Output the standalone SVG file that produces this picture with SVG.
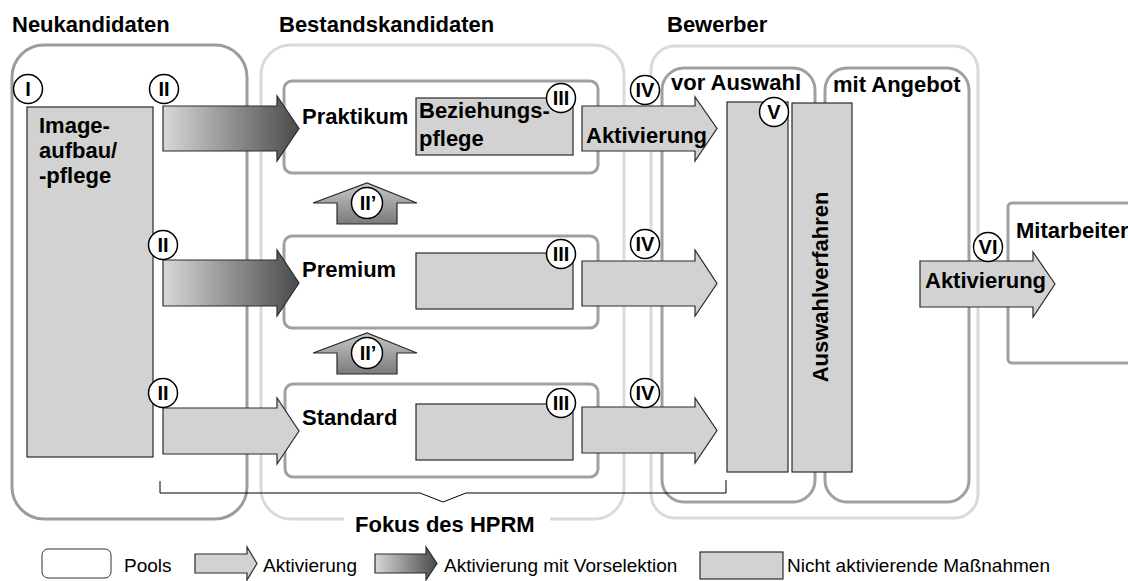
<svg xmlns="http://www.w3.org/2000/svg" width="1128" height="581" viewBox="0 0 1128 581">
  <style>
    text { font-family: "Liberation Sans", Arial, Helvetica, sans-serif; fill: #000; }
    .title { font-size: 22px; font-weight: bold; }
    .lbl { font-size: 22px; font-weight: bold; }
    .num { font-size: 20px; font-weight: bold; text-anchor: middle; }
    .leg { font-size: 19px; }
    .poolDark { fill: none; stroke: #9c9c9c; stroke-width: 3; }
    .poolLight { fill: none; stroke: #dadada; stroke-width: 3; }
    .seg { fill: #fff; stroke: #a0a0a0; stroke-width: 3; }
    .measure { fill: #d2d2d2; stroke: #2a2a2a; stroke-width: 1.2; }
    .act { fill: #d2d2d2; stroke: #2a2a2a; stroke-width: 1.2; }
    .actSel { fill: url(#gradH); stroke: #2a2a2a; stroke-width: 1.2; }
    .actUp { fill: url(#gradV); stroke: #2a2a2a; stroke-width: 1.2; }
    .badge { fill: #fff; stroke: #000; stroke-width: 1.5; }
  </style>
  <defs>
    <linearGradient id="gradH" x1="0" y1="0" x2="1" y2="0">
      <stop offset="0" stop-color="#d8d8d8"/>
      <stop offset="1" stop-color="#4a4a4a"/>
    </linearGradient>
    <linearGradient id="gradV" x1="0" y1="0" x2="0" y2="1">
      <stop offset="0" stop-color="#c8c8c8"/>
      <stop offset="1" stop-color="#7a7a7a"/>
    </linearGradient>
  </defs>

  <!-- column titles -->
  <text class="title" x="12" y="32">Neukandidaten</text>
  <text class="title" x="279" y="32">Bestandskandidaten</text>
  <text class="title" x="667" y="32">Bewerber</text>

  <!-- pools -->
  <g id="pool-neukandidaten">
    <rect class="poolDark" x="12" y="45" width="235" height="474" rx="32"/>
  </g>
  <g id="pool-bestandskandidaten">
    <rect class="poolLight" x="261" y="45" width="363" height="474" rx="30"/>
    <rect x="344" y="512" width="206" height="14" fill="#fff"/>
    <text class="lbl" x="355" y="532">Fokus des HPRM</text>
  </g>
  <g id="pool-bewerber">
    <rect class="poolLight" x="651" y="46" width="327" height="472" rx="24"/>
  </g>
  <g id="pool-vor-auswahl">
    <rect class="seg" x="662" y="68" width="153" height="434" rx="22"/>
    <text class="lbl" x="671" y="90">vor Auswahl</text>
  </g>
  <g id="pool-mit-angebot">
    <rect class="seg" x="825" y="68" width="144" height="434" rx="22"/>
    <text class="lbl" x="833" y="92">mit Angebot</text>
  </g>
  <g id="pool-mitarbeiter">
    <rect class="seg" x="1008" y="203" width="200" height="160" rx="4"/>
    <text class="lbl" x="1016" y="238">Mitarbeiter</text>
  </g>

  <!-- candidate segments -->
  <g id="seg-praktikum">
    <rect class="seg" x="284" y="81" width="314" height="92" rx="8"/>
    <text class="lbl" x="302" y="124">Praktikum</text>
  </g>
  <g id="seg-premium">
    <rect class="seg" x="284" y="236" width="314" height="92" rx="8"/>
    <text class="lbl" x="302" y="277">Premium</text>
  </g>
  <g id="seg-standard">
    <rect class="seg" x="285" y="384" width="313" height="93" rx="8"/>
    <text class="lbl" x="302" y="425">Standard</text>
  </g>

  <!-- non-activating measures -->
  <g id="measure-image">
    <rect class="measure" x="27" y="107" width="126" height="350"/>
    <text class="lbl" x="39" y="133">Image-</text>
    <text class="lbl" x="39" y="158">aufbau/</text>
    <text class="lbl" x="39" y="183">-pflege</text>
  </g>
  <g id="measure-beziehungspflege">
    <rect class="measure" x="416" y="98" width="157" height="57"/>
    <text class="lbl" x="419" y="118">Beziehungs-</text>
    <text class="lbl" x="419" y="146">pflege</text>
  </g>
  <g id="measure-premium">
    <rect class="measure" x="416" y="253" width="157" height="56"/>
  </g>
  <g id="measure-standard">
    <rect class="measure" x="416" y="404" width="157" height="56"/>
  </g>
  <g id="measure-vorauswahl">
    <rect class="measure" x="727" y="102" width="61" height="370"/>
  </g>
  <g id="measure-auswahlverfahren">
    <rect class="measure" x="792" y="103" width="60" height="369"/>
    <text class="lbl" text-anchor="middle" transform="translate(828 287) rotate(-90)">Auswahlverfahren</text>
  </g>

  <!-- activation arrows -->
  <g id="connectors">
    <path class="actSel" d="M163,106 H277 V96 L299,128.5 L277,161 V151 H163 Z"/>
    <path class="actSel" d="M163,260 H277 V250 L299,283 L277,316 V306 H163 Z"/>
    <path class="act" d="M163,408 H277 V398 L299,431 L277,464 V454 H163 Z"/>

    <path class="actUp" d="M337,224 V203 H313 L367,183 L417,203 H397 V224 Z"/>
    <path class="actUp" d="M337,374 V353 H313 L367,333 L417,353 H397 V374 Z"/>

    <path class="act" d="M582,106 H695 V97 L717,128.5 L695,161 V151 H582 Z"/>
    <path class="act" d="M582,261 H695 V250 L717,283.5 L695,316 V306 H582 Z"/>
    <path class="act" d="M582,407 H695 V398 L717,430.5 L695,463 V453 H582 Z"/>

    <path class="act" d="M920,261 H1033 V252 L1055,284 L1033,317 V307 H920 Z"/>

    <!-- bracket marking the HPRM scope -->
    <path d="M160,481 V493 H420 L443,502 L466,493 H726 V480" fill="none" stroke="#000" stroke-width="1"/>
  </g>
  <text class="lbl" x="586" y="143">Aktivierung</text>
  <text class="lbl" x="925" y="288">Aktivierung</text>

  <!-- phase badges -->
  <g id="badges">
    <g id="badge-I"><circle class="badge" cx="28" cy="89" r="14.5"/><text class="num" x="28" y="96">I</text></g>
    <g id="badge-II-a"><circle class="badge" cx="164" cy="89" r="14.5"/><text class="num" x="164" y="96">II</text></g>
    <g id="badge-II-b"><circle class="badge" cx="163" cy="245" r="14.5"/><text class="num" x="163" y="252">II</text></g>
    <g id="badge-II-c"><circle class="badge" cx="163" cy="393" r="14.5"/><text class="num" x="163" y="400">II</text></g>
    <g id="badge-IIp-a"><circle class="badge" cx="367" cy="203" r="15.5"/><text class="num" x="368" y="210">II’</text></g>
    <g id="badge-IIp-b"><circle class="badge" cx="367" cy="353" r="15.5"/><text class="num" x="368" y="360">II’</text></g>
    <g id="badge-III-a"><circle class="badge" cx="561" cy="98" r="14.5"/><text class="num" x="561" y="105">III</text></g>
    <g id="badge-III-b"><circle class="badge" cx="561" cy="254" r="14.5"/><text class="num" x="561" y="261">III</text></g>
    <g id="badge-III-c"><circle class="badge" cx="561" cy="403" r="14.5"/><text class="num" x="561" y="410">III</text></g>
    <g id="badge-IV-a"><circle class="badge" cx="645" cy="90" r="14.5"/><text class="num" x="645" y="97">IV</text></g>
    <g id="badge-IV-b"><circle class="badge" cx="645" cy="244" r="14.5"/><text class="num" x="645" y="251">IV</text></g>
    <g id="badge-IV-c"><circle class="badge" cx="645" cy="393" r="14.5"/><text class="num" x="645" y="400">IV</text></g>
    <g id="badge-V"><circle class="badge" cx="774" cy="112" r="14.5"/><text class="num" x="774" y="119">V</text></g>
    <g id="badge-VI"><circle class="badge" cx="988" cy="247" r="14.5"/><text class="num" x="988" y="254">VI</text></g>
  </g>

  <!-- legend -->
  <g id="legend">
    <rect x="42" y="549" width="69" height="29" rx="6" fill="#fff" stroke="#333" stroke-width="1"/>
    <text class="leg" x="124" y="572">Pools</text>
    <path class="act" d="M195,554 H247 V547 L257,563.5 L247,580 V573 H195 Z"/>
    <text class="leg" x="263" y="572">Aktivierung</text>
    <path class="actSel" d="M375,554 H426 V547 L437,563.5 L426,580 V573 H375 Z"/>
    <text class="leg" x="444" y="572">Aktivierung mit Vorselektion</text>
    <rect class="measure" x="700" y="552" width="83" height="27"/>
    <text class="leg" x="787" y="572">Nicht aktivierende Maßnahmen</text>
  </g>
</svg>
